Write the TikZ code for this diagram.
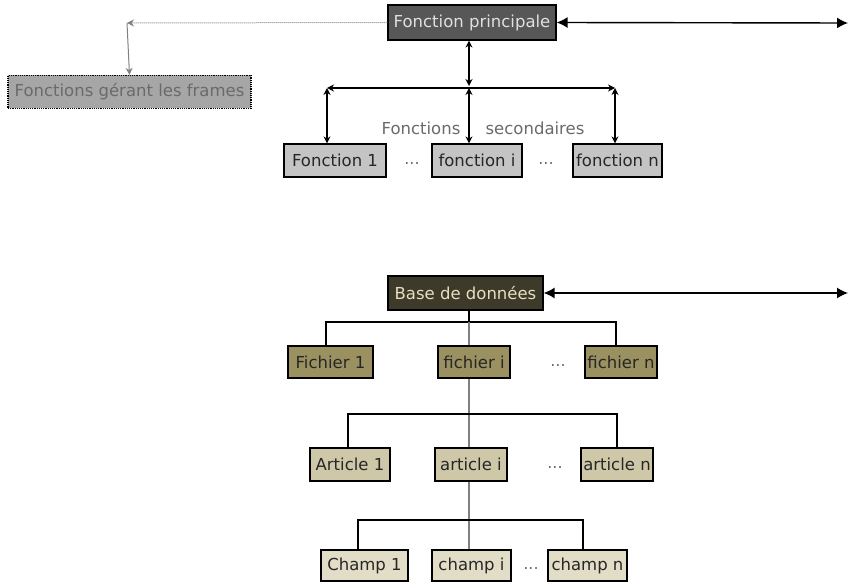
\documentclass[tikz,border=0pt]{standalone}
\usepackage{fontspec}
\setmainfont{DejaVu Sans}
\usetikzlibrary{arrows.meta}
\definecolor{fpfill}{HTML}{575757}
\definecolor{fgfill}{HTML}{A6A6A6}
\definecolor{fgtext}{HTML}{6A6A6A}
\definecolor{fsfill}{HTML}{C4C4C4}
\definecolor{bdfill}{HTML}{3D3A2A}
\definecolor{bdtext}{HTML}{E6DFC2}
\definecolor{ficfill}{HTML}{9A9060}
\definecolor{artfill}{HTML}{CFC8A8}
\definecolor{chfill}{HTML}{E2DDC6}
\definecolor{lbl}{HTML}{6A6A6A}
\tikzset{
  box/.style={draw=black, line width=1.2pt, inner sep=0pt, minimum height=33pt,
    font=\fontsize{16.5}{18}\selectfont, text=black!85},
  dots/.style={font=\fontsize{16}{18}\selectfont, text=lbl, inner sep=0pt},
  lab/.style={font=\fontsize{16.5}{18}\selectfont, text=lbl, inner sep=0pt},
  dbl/.style={line width=1.2pt, {Stealth[length=7pt,width=7pt]}-{Stealth[length=7pt,width=7pt]}},
  big/.style={line width=1.4pt, {Latex[length=11pt,width=11pt]}-{Latex[length=11pt,width=11pt]}},
  tree/.style={line width=1.1pt, black},
  treeg/.style={line width=1.1pt, gray},
}
\begin{document}
\begin{tikzpicture}[x=1pt,y=-1pt]
\useasboundingbox (0,0) rectangle (849,583);
% top part
\node[box, fill=fpfill, text=white!88!black, minimum width=168pt, minimum height=35pt] (fp) at (472,22.5) {Fonction principale};
\node[box, fill=fgfill, text=fgtext, densely dotted, minimum width=243pt] (fg) at (129.5,92) {Fonctions gérant les frames};
\node[box, fill=fsfill, minimum width=102pt] (f1) at (335,160.5) {Fonction 1};
\node[box, fill=fsfill, minimum width=90pt] (fi) at (477,160.5) {fonction i};
\node[box, fill=fsfill, minimum width=89pt] (fn) at (617.5,160.5) {fonction n};
\node[dots] (d1) at (412,164) {...};
\node[dots] (d2) at (546,164) {...};
\node[lab] (ls1) at (421,128) {Fonctions};
\node[lab] (ls2) at (535,128) {secondaires};
\coordinate (rt) at (848,23);
\coordinate (fl) at (127,23);
\coordinate (hub) at (469,86);
\coordinate (hl) at (327,88);
\coordinate (hr) at (615,88);
\coordinate (hm) at (469,88);
\draw[big] (fp.east) -- (rt);
\draw[gray, densely dotted, line width=1pt, -{Stealth[length=7pt,width=7pt]}] (fp.west) -- (fl);
\draw[gray, line width=1pt, -{Stealth[length=7pt,width=7pt]}] (fl) -- (fg.north);
\draw[dbl] (fp.south -| hub) -- (hub);
\draw[dbl] (hl) -- (hr);
\draw[dbl] (hl) -- (f1.north -| hl);
\draw[dbl] (hm) -- (fi.north -| hm);
\draw[dbl] (hr) -- (fn.north -| hr);
% bottom part
\node[box, fill=bdfill, text=bdtext, minimum width=155pt, minimum height=34pt] (bd) at (465.5,293) {Base de données};
\coordinate (rb) at (848,293);
\draw[big] (bd.east) -- (rb);
\node[box, fill=ficfill, minimum width=85pt, minimum height=32pt] (c1) at (330.5,362) {Fichier 1};
\node[box, fill=ficfill, minimum width=72pt, minimum height=32pt] (ci) at (474,362) {fichier i};
\node[box, fill=ficfill, minimum width=72pt, minimum height=32pt] (cn) at (621,362) {fichier n};
\node[dots] (d3) at (558,366) {...};
\node[box, fill=artfill, minimum width=80pt] (a1) at (350,464.5) {Article 1};
\node[box, fill=artfill, minimum width=72pt] (ai) at (471,464.5) {article i};
\node[box, fill=artfill, minimum width=72pt] (an) at (617,464.5) {article n};
\node[dots] (d4) at (555,468) {...};
\node[box, fill=chfill, minimum width=87pt, minimum height=31pt] (h1) at (364.5,565.5) {Champ 1};
\node[box, fill=chfill, minimum width=79pt, minimum height=31pt] (hi) at (471.5,565.5) {champ i};
\node[box, fill=chfill, minimum width=79pt, minimum height=31pt] (hn) at (587.5,565.5) {champ n};
\node[dots] (d5) at (531,569) {...};
% tree lines
\coordinate (t1l) at (326,322);
\coordinate (t1m) at (469,322);
\coordinate (t1r) at (616,322);
\draw[tree] (bd.south -| t1m) -- (t1m);
\draw[tree] (c1.north -| t1l) -- (t1l) -- (t1r) -- (cn.north -| t1r);
\draw[treeg] (t1m) -- (ci.north -| t1m);
\coordinate (t2l) at (348,414);
\coordinate (t2m) at (469,414);
\coordinate (t2r) at (617,414);
\draw[treeg] (ci.south -| t2m) -- (t2m) -- (ai.north -| t2m);
\draw[tree] (a1.north -| t2l) -- (t2l) -- (t2r) -- (an.north -| t2r);
\coordinate (t3l) at (358,520);
\coordinate (t3m) at (469,520);
\coordinate (t3r) at (583,520);
\draw[treeg] (ai.south -| t3m) -- (t3m) -- (hi.north -| t3m);
\draw[tree] (h1.north -| t3l) -- (t3l) -- (t3r) -- (hn.north -| t3r);
\end{tikzpicture}
\end{document}
